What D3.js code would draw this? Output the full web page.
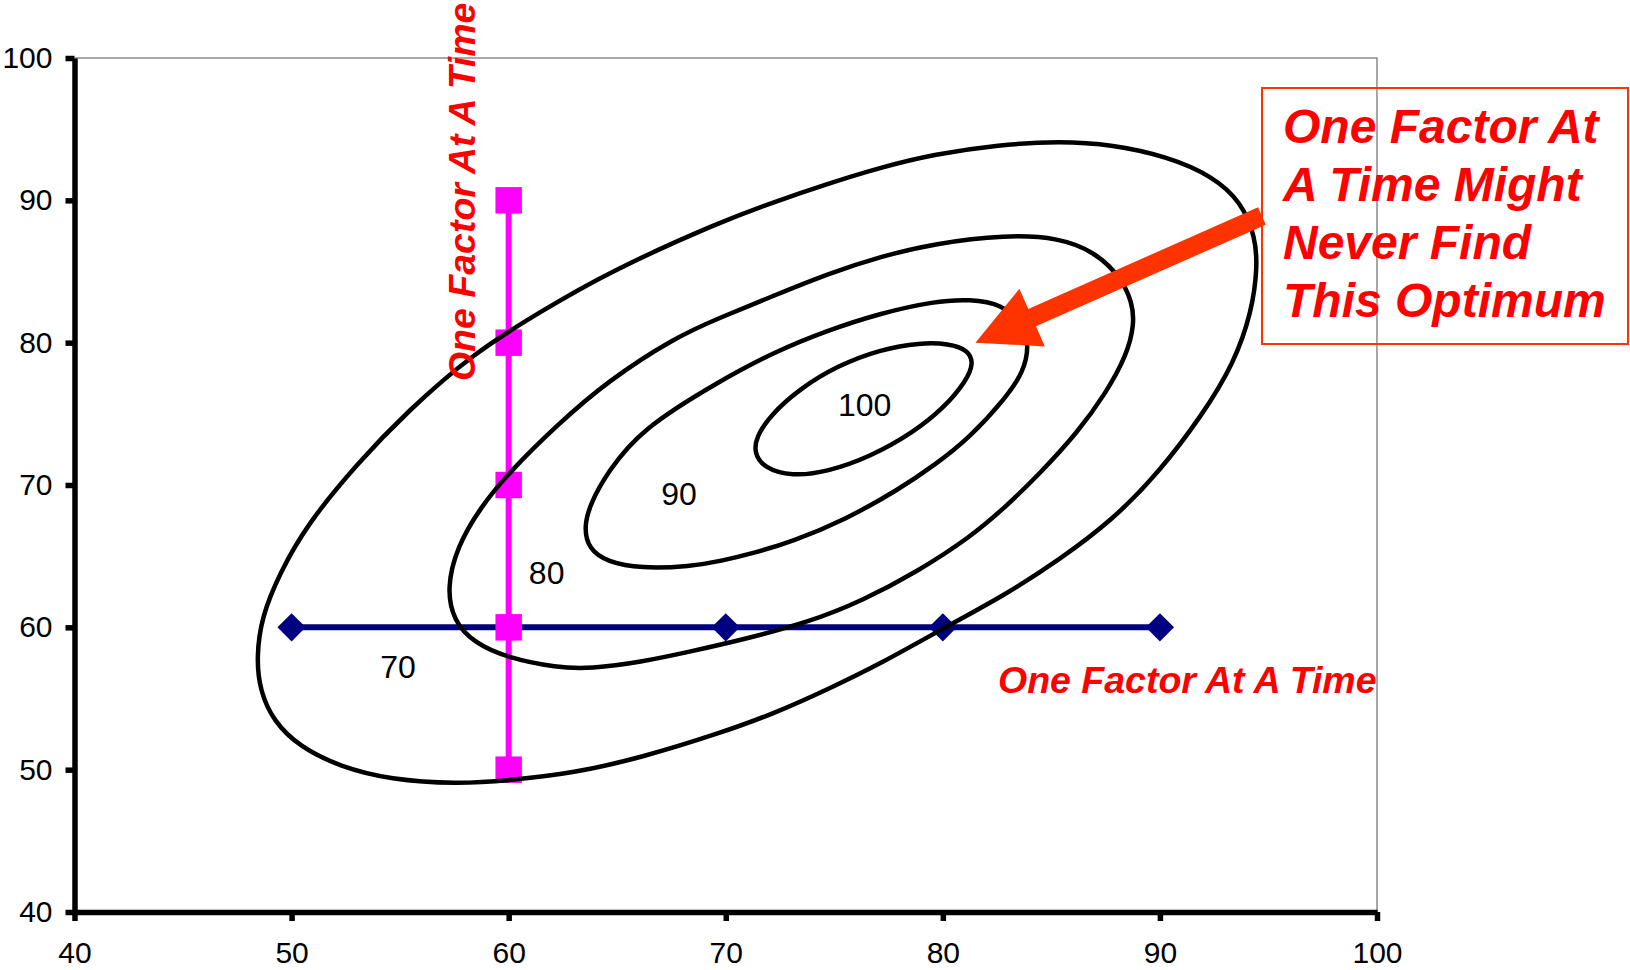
<!DOCTYPE html>
<html>
<head>
<meta charset="utf-8">
<script src="https://cdn.jsdelivr.net/npm/d3@7"></script>
<style>
  html, body { margin: 0; padding: 0; background: #fff; }
  svg { display: block; }
</style>
</head>
<body>
<svg id="chart" width="1630" height="970"></svg>
<script>
// Axis ticks
const xTicks = [40, 50, 60, 70, 80, 90, 100];
const yTicks = [40, 50, 60, 70, 80, 90, 100];

// One-factor-at-a-time runs: vary X with Y held at 60
const sweepXx = [50, 60, 70, 80, 90];
const sweepXy = [60, 60, 60, 60, 60];
// then vary Y with X held at 60
const sweepYx = [60, 60, 60, 60, 60];
const sweepYy = [50, 60, 70, 80, 90];

// Response-surface contours (closed outlines, [x, y])
const contour70 = [[48.38,57.86],[48.54,55.57],[49.15,53.43],[50.38,51.59],[52.23,50.21],[54.54,49.3],[57.62,48.99],[60,49.24],[63.0,49.76],[66.08,50.83],[69.75,52.57],[72.22,53.94],[74.68,55.63],[77.15,57.46],[79.98,59.9],[82.9,62.3],[85.37,64.75],[87.83,67.55],[89.97,70.92],[91.94,74.89],[93.42,78.56],[94.24,82.23],[94.49,85.29],[94.4,87.43],[93.75,89.88],[92.43,91.71],[90.3,93.09],[87.83,93.91],[85.37,94.16],[82.57,93.91],[79.61,93.24],[77.15,92.32],[74.68,91.16],[72.22,89.88],[69.75,88.5],[64.54,84.92],[61.46,82.17],[58.38,79.27],[55.31,75.14],[53.0,71.47],[50.69,67.19],[49.46,63.82],[48.62,60.76]];
const contour80 = [[57.15,62.75],[57.46,60.46],[58.38,58.93],[59.92,57.86],[62.23,57.16],[63.77,57.09],[66.08,57.55],[68.38,58.3],[70.69,59.1],[73.86,60.37],[76.33,61.9],[78.79,63.88],[81.26,66.33],[82.9,68.47],[84.54,70.92],[86.19,73.67],[87.5,76.42],[88.49,79.17],[88.82,81.31],[88.73,82.84],[88.16,84.68],[87.01,86.36],[85.37,87.37],[82.9,87.58],[79.61,86.97],[77.15,86.06],[74.68,84.83],[72.22,83.3],[69.75,81.77],[67.62,80.34],[64.54,77.28],[62.23,74.22],[60.0,70.86],[58.69,68.41],[57.62,65.66]];
const contour90 = [[63.46,67.03],[63.69,65.5],[64.54,64.59],[66.08,64.13],[68.38,64.28],[69.75,64.65],[71.4,65.26],[73.04,66.02],[75.5,67.55],[77.97,69.69],[79.61,71.38],[81.26,73.36],[82.9,76.12],[83.72,77.95],[83.97,79.79],[83.72,81.31],[82.74,82.69],[81.26,83.06],[79.61,82.91],[77.15,82.08],[74.68,80.86],[72.22,79.33],[69.75,77.34],[66.08,73.91],[64.54,70.86],[63.77,68.72]];
const contour100 = [[71.31,72.29],[71.73,71.22],[73.04,70.61],[74.68,70.92],[76.66,71.99],[78.63,73.67],[80.11,75.5],[81.09,77.34],[81.42,78.56],[81.17,79.48],[80.27,79.94],[78.96,80.0],[77.15,79.54],[75.18,78.41],[73.37,76.73],[72.05,74.89],[71.4,73.36]];

const contourLevels = [70, 80, 90, 100];
const contourLabelX = [54.9, 61.75, 67.85, 76.4];
const contourLabelY = [57.2, 63.8, 69.35, 75.6];

// Annotations
const sweepLabel = "One Factor At A Time";
const calloutLines = ["One Factor At", "A Time Might", "Never Find", "This Optimum"];
const arrowTail = [94.7, 88.9];
const arrowTip = [81.5, 80.0];

const svg = d3.select("#chart");
const W = 1630, H = 970;
svg.append("rect").attr("width", W).attr("height", H).attr("fill", "#fff");

const plot = { left: 74.5, right: 1377, top: 58, bottom: 912 };
const x = d3.scaleLinear().domain([40, 100]).range([plot.left, plot.right]);
const y = d3.scaleLinear().domain([40, 100]).range([plot.bottom, plot.top]);

// Thin grey frame on the top and right
svg.append("path")
  .attr("d", `M${x(40)},${y(100)}H${x(100)}V${y(40)}`)
  .attr("fill", "none").attr("stroke", "#8a8a8a").attr("stroke-width", 1.5);

// Axes
const axisFont = "'Liberation Sans', Arial, sans-serif";
const gx = svg.append("g").attr("transform", `translate(0,${plot.bottom})`)
  .call(d3.axisBottom(x).tickValues(xTicks).tickSize(9).tickSizeOuter(0).tickPadding(21));
const gy = svg.append("g").attr("transform", `translate(${plot.left},0)`)
  .call(d3.axisLeft(y).tickValues(yTicks).tickSize(9).tickSizeOuter(0).tickPadding(13));
[gx, gy].forEach(g => {
  g.select(".domain").attr("stroke", "#000").attr("stroke-width", 5.5);
  g.selectAll(".tick line").attr("stroke", "#000").attr("stroke-width", 5.5);
  g.selectAll(".tick text").attr("fill", "#000")
    .style("font-family", axisFont).style("font-size", "30px");
});

// Series lines and markers
const line = d3.line().x(d => x(d[0])).y(d => y(d[1]));
const sweepX = sweepXx.map((v, i) => [v, sweepXy[i]]);
const sweepY = sweepYx.map((v, i) => [v, sweepYy[i]]);

svg.append("path").datum(sweepX).attr("d", line)
  .attr("fill", "none").attr("stroke", "#000080").attr("stroke-width", 6);
svg.append("g").selectAll("path").data(sweepX).join("path")
  .attr("d", d3.symbol(d3.symbolSquare, 400))
  .attr("transform", d => `translate(${x(d[0])},${y(d[1])}) rotate(45)`)
  .attr("fill", "#000080");

svg.append("path").datum(sweepY).attr("d", line)
  .attr("fill", "none").attr("stroke", "#FF00FF").attr("stroke-width", 6);
svg.append("g").selectAll("path").data(sweepY).join("path")
  .attr("d", d3.symbol(d3.symbolSquare, 700))
  .attr("transform", d => `translate(${x(d[0])},${y(d[1])})`)
  .attr("fill", "#FF00FF");

// Contours, smoothed through the traced outline points
const closed = d3.line().x(d => x(d[0])).y(d => y(d[1])).curve(d3.curveBasisClosed);
svg.append("g").selectAll("path").data([contour70, contour80, contour90, contour100]).join("path")
  .attr("d", closed)
  .attr("fill", "none").attr("stroke", "#000").attr("stroke-width", 4.5);

svg.append("g").selectAll("text").data(contourLevels).join("text")
  .attr("x", (d, i) => x(contourLabelX[i]))
  .attr("y", (d, i) => y(contourLabelY[i]))
  .attr("text-anchor", "middle").attr("dominant-baseline", "central")
  .style("font-family", axisFont).style("font-size", "32px").attr("fill", "#000")
  .text(d => d);

// Red italic labels
const redFamily = "'Liberation Sans', Arial, sans-serif";
svg.append("text")
  .attr("transform", `translate(${x(58.45)},${y(90.6)}) rotate(-90)`)
  .attr("text-anchor", "middle")
  .style("font-family", redFamily).style("font-size", "37.5px")
  .style("font-weight", "bold").style("font-style", "italic")
  .attr("fill", "#FF0000").text(sweepLabel);

svg.append("text")
  .attr("x", x(82.54)).attr("y", y(55.39))
  .style("font-family", redFamily).style("font-size", "37.5px")
  .style("font-weight", "bold").style("font-style", "italic")
  .attr("fill", "#FF0000").text(sweepLabel);

// Arrow pointing at the optimum
(function drawArrow() {
  const tx = x(arrowTail[0]), ty = y(arrowTail[1]);
  const hx = x(arrowTip[0]), hy = y(arrowTip[1]);
  const dx = hx - tx, dy = hy - ty, len = Math.hypot(dx, dy);
  const ux = dx / len, uy = dy / len, nx = -uy, ny = ux;
  const shaftHalf = 9.5, headLen = 62, headHalf = 31.5;
  const bx = hx - ux * headLen, by = hy - uy * headLen;
  const pts = [
    [tx + nx * shaftHalf, ty + ny * shaftHalf],
    [bx + nx * shaftHalf, by + ny * shaftHalf],
    [bx + nx * headHalf, by + ny * headHalf],
    [hx, hy],
    [bx - nx * headHalf, by - ny * headHalf],
    [bx - nx * shaftHalf, by - ny * shaftHalf],
    [tx - nx * shaftHalf, ty - ny * shaftHalf]
  ];
  svg.append("path").attr("d", "M" + pts.map(p => p.join(",")).join("L") + "Z")
    .attr("fill", "#FF3300");
})();

// Callout box
const box = { left: 1262, top: 88, right: 1628, bottom: 344 };
svg.append("rect")
  .attr("x", box.left).attr("y", box.top)
  .attr("width", box.right - box.left).attr("height", box.bottom - box.top)
  .attr("fill", "none").attr("stroke", "#FF3300").attr("stroke-width", 2);
svg.append("g").selectAll("text").data(calloutLines).join("text")
  .attr("x", box.left + 21)
  .attr("y", (d, i) => 143 + i * 58)
  .style("font-family", redFamily).style("font-size", "48px")
  .style("font-weight", "bold").style("font-style", "italic")
  .attr("fill", "#FF0000").text(d => d);
</script>
</body>
</html>
